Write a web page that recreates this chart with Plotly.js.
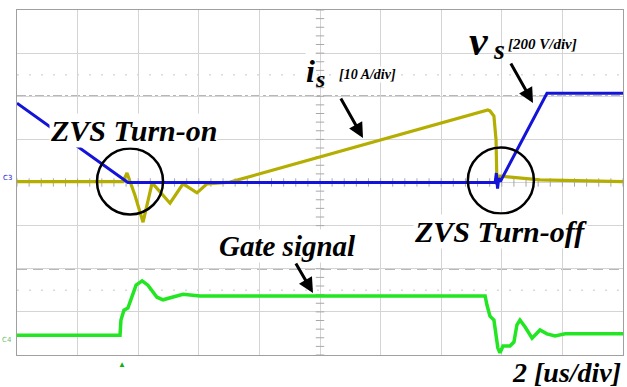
<!DOCTYPE html>
<html>
<head>
<meta charset="utf-8">
<script src="https://cdn.plot.ly/plotly-3.0.1.min.js"></script>
<style>
  html, body { margin: 0; padding: 0; background: #fff; }
  #scope { width: 627px; height: 387px; }
</style>
</head>
<body>
<div id="scope"></div>
<script>
// Oscilloscope capture: 10 horizontal divisions (2 us/div), 8 vertical divisions.
// All trace levels are in screen divisions (0 = bottom edge, 8 = top edge).

// Switch voltage v_s (200 V/div)
const vsTime = [0, 3.66, 15.78, 15.82, 15.86, 15.9, 15.95, 17.49, 20];
const vsDiv  = [5.84, 4.0, 4.0, 4.22, 3.86, 4.1, 4.02, 6.07, 6.07];

// Switch current i_s (10 A/div)
const isTime = [0, 3.5, 3.63, 3.89, 4.16, 4.46, 5.05, 5.48, 5.94, 6.27, 7.03,
                15.54, 15.61, 15.74, 15.81, 15.84, 15.91, 16.27, 17.26, 20];
const isDiv  = [4.02, 4.02, 4.22, 3.71, 3.08, 3.99, 3.52, 3.97, 3.76, 3.97, 4.01,
                5.68, 5.66, 5.54, 4.99, 3.94, 4.15, 4.13, 4.06, 4.02];

// Gate signal
const gateTime = [0, 3.40, 3.43, 3.53, 3.66, 3.76, 3.93, 4.13, 4.32, 4.62, 4.82,
                  5.12, 5.48, 6.04, 15.45, 15.51, 15.61, 15.74, 15.81, 15.87, 15.94,
                  16.04, 16.27, 16.40, 16.50, 16.60, 16.77, 17.0, 17.26, 17.49,
                  17.76, 18.09, 20];
const gateDiv  = [0.46, 0.46, 0.81, 1.04, 1.09, 1.28, 1.62, 1.72, 1.62, 1.34, 1.28,
                  1.34, 1.41, 1.37, 1.37, 1.16, 0.90, 0.81, 0.46, 0.16, 0.05,
                  0.21, 0.21, 0.30, 0.70, 0.81, 0.65, 0.39, 0.58, 0.49,
                  0.44, 0.49, 0.49];

// Reference levels drawn across the screen
const dashDotLevel = 6;
const dashLevel = 2;
const dottedLevels = [6.5, 1.5];
const triggerTime = 3.47;

// Screen geometry
const M = { l: 17, r: 4, t: 10, b: 32 };
const W = 627 - M.l - M.r, H = 387 - M.t - M.b;
const px = x => (x - M.l) / W;          // screen x -> paper
const py = y => (H + M.t - y) / H;      // screen y -> paper

const cBlue = '#1414d8', cOlive = '#b4ae00', cGreen = '#22e622';

// Graticule ticks along the centre cross
const tickY = [], tickX = [];
for (let k = 0; k <= 40; k++) tickY.push(k * 0.2);
for (let k = 0; k <= 50; k++) tickX.push(k * 0.4);

const traces = [
  { x: tickY.map(() => 10), y: tickY, mode: 'markers', hoverinfo: 'skip',
    marker: { symbol: 'line-ew', size: 6, line: { width: 1, color: '#a8a8a8' } } },
  { x: tickX, y: tickX.map(() => 4), mode: 'markers', hoverinfo: 'skip',
    marker: { symbol: 'line-ns', size: 6, line: { width: 1, color: '#a8a8a8' } } },
  { x: gateTime, y: gateDiv, mode: 'lines', line: { color: cGreen, width: 3.5 } },
  { x: isTime, y: isDiv, mode: 'lines', line: { color: cOlive, width: 3.2 } },
  { x: vsTime, y: vsDiv, mode: 'lines', line: { color: cBlue, width: 3 } }
];

const serif = '"Liberation Serif", "Times New Roman", serif';
const label = (text, x, y, size, extra) => Object.assign({
  text: text, xref: 'paper', yref: 'paper',
  x: px(x), y: py(y), showarrow: false, xanchor: 'center', yanchor: 'middle',
  font: { family: serif, size: size, color: '#000', weight: 'bold', style: 'italic' },
  bgcolor: 'rgba(255,255,255,1)', borderpad: 0
}, extra || {});

const arrow = (tipX, tipY, tailX, tailY) => ({
  text: '', xref: 'paper', yref: 'paper', x: px(tipX), y: py(tipY),
  ax: tailX - tipX, ay: tailY - tipY, showarrow: true,
  arrowhead: 2, arrowsize: 1, arrowwidth: 3, arrowcolor: '#000', standoff: 0
});

const clear = { bgcolor: 'rgba(0,0,0,0)' };
const annotations = [
  label('ZVS Turn-on', 133, 130, 30),
  label('ZVS Turn-off', 500, 231, 30),
  label('Gate signal', 287, 246, 29),
  label('2 [us/div]', 566, 372, 28, clear),
  label('i', 310, 71, 32),
  label('s', 320, 79, 24, clear),
  label('[10 A/div]', 367, 74, 14),
  label('v', 479, 41, 42, clear),
  label('s', 499, 50, 28, clear),
  label('[200 V/div]', 542, 44, 15, clear),
  arrow(363, 138, 340, 97),
  arrow(533, 103, 510, 62),
  arrow(313, 293, 295, 262),
  { text: 'C3', xref: 'paper', yref: 'paper', x: px(7), y: py(178), showarrow: false,
    font: { family: 'DejaVu Sans', size: 7, color: cBlue }, xanchor: 'center', yanchor: 'middle' },
  { text: 'C4', xref: 'paper', yref: 'paper', x: px(7), y: py(340), showarrow: false,
    font: { family: 'DejaVu Sans', size: 7, color: '#6ac06a' }, xanchor: 'center', yanchor: 'middle' },
  { text: '▲', xref: 'x', yref: 'paper', x: triggerTime, y: -0.003, yanchor: 'top',
    showarrow: false, font: { size: 8, color: '#10b010' } }
];

const hline = (lvl, dash, color, width) => ({
  type: 'line', xref: 'paper', x0: 0, x1: 1, yref: 'y', y0: lvl, y1: lvl,
  line: { dash: dash, color: color, width: width }, layer: 'below'
});

const shapes = [
  hline(dashDotLevel, 'dashdot', '#707070', 1.5),
  hline(dashLevel, '10px,6px', '#707070', 1.5),
  ...dottedLevels.map(l => hline(l, '2px,10px', '#dadada', 1.5)),
  { type: 'circle', xref: 'x', yref: 'y', x0: 2.64, x1: 4.82, y0: 3.26, y1: 4.79,
    line: { color: '#000', width: 2.5 } },
  { type: 'circle', xref: 'x', yref: 'y', x0: 14.88, x1: 17.06, y0: 3.28, y1: 4.81,
    line: { color: '#000', width: 2.5 } }
];

const layout = {
  width: 627, height: 387, margin: M, showlegend: false,
  paper_bgcolor: '#fff', plot_bgcolor: '#fff',
  xaxis: { range: [0, 20], dtick: 2, showticklabels: false, ticks: '',
           showgrid: true, gridcolor: '#d4d4d4', gridwidth: 1, zeroline: false,
           showline: true, mirror: true, linecolor: '#a0a0a0', linewidth: 1, fixedrange: true },
  yaxis: { range: [0, 8], dtick: 1, showticklabels: false, ticks: '',
           showgrid: true, gridcolor: '#d4d4d4', gridwidth: 1, zeroline: false,
           showline: true, mirror: true, linecolor: '#a0a0a0', linewidth: 1, fixedrange: true },
  annotations: annotations,
  shapes: shapes
};

Plotly.newPlot('scope', traces, layout, { staticPlot: true, displayModeBar: false });
</script>
</body>
</html>
